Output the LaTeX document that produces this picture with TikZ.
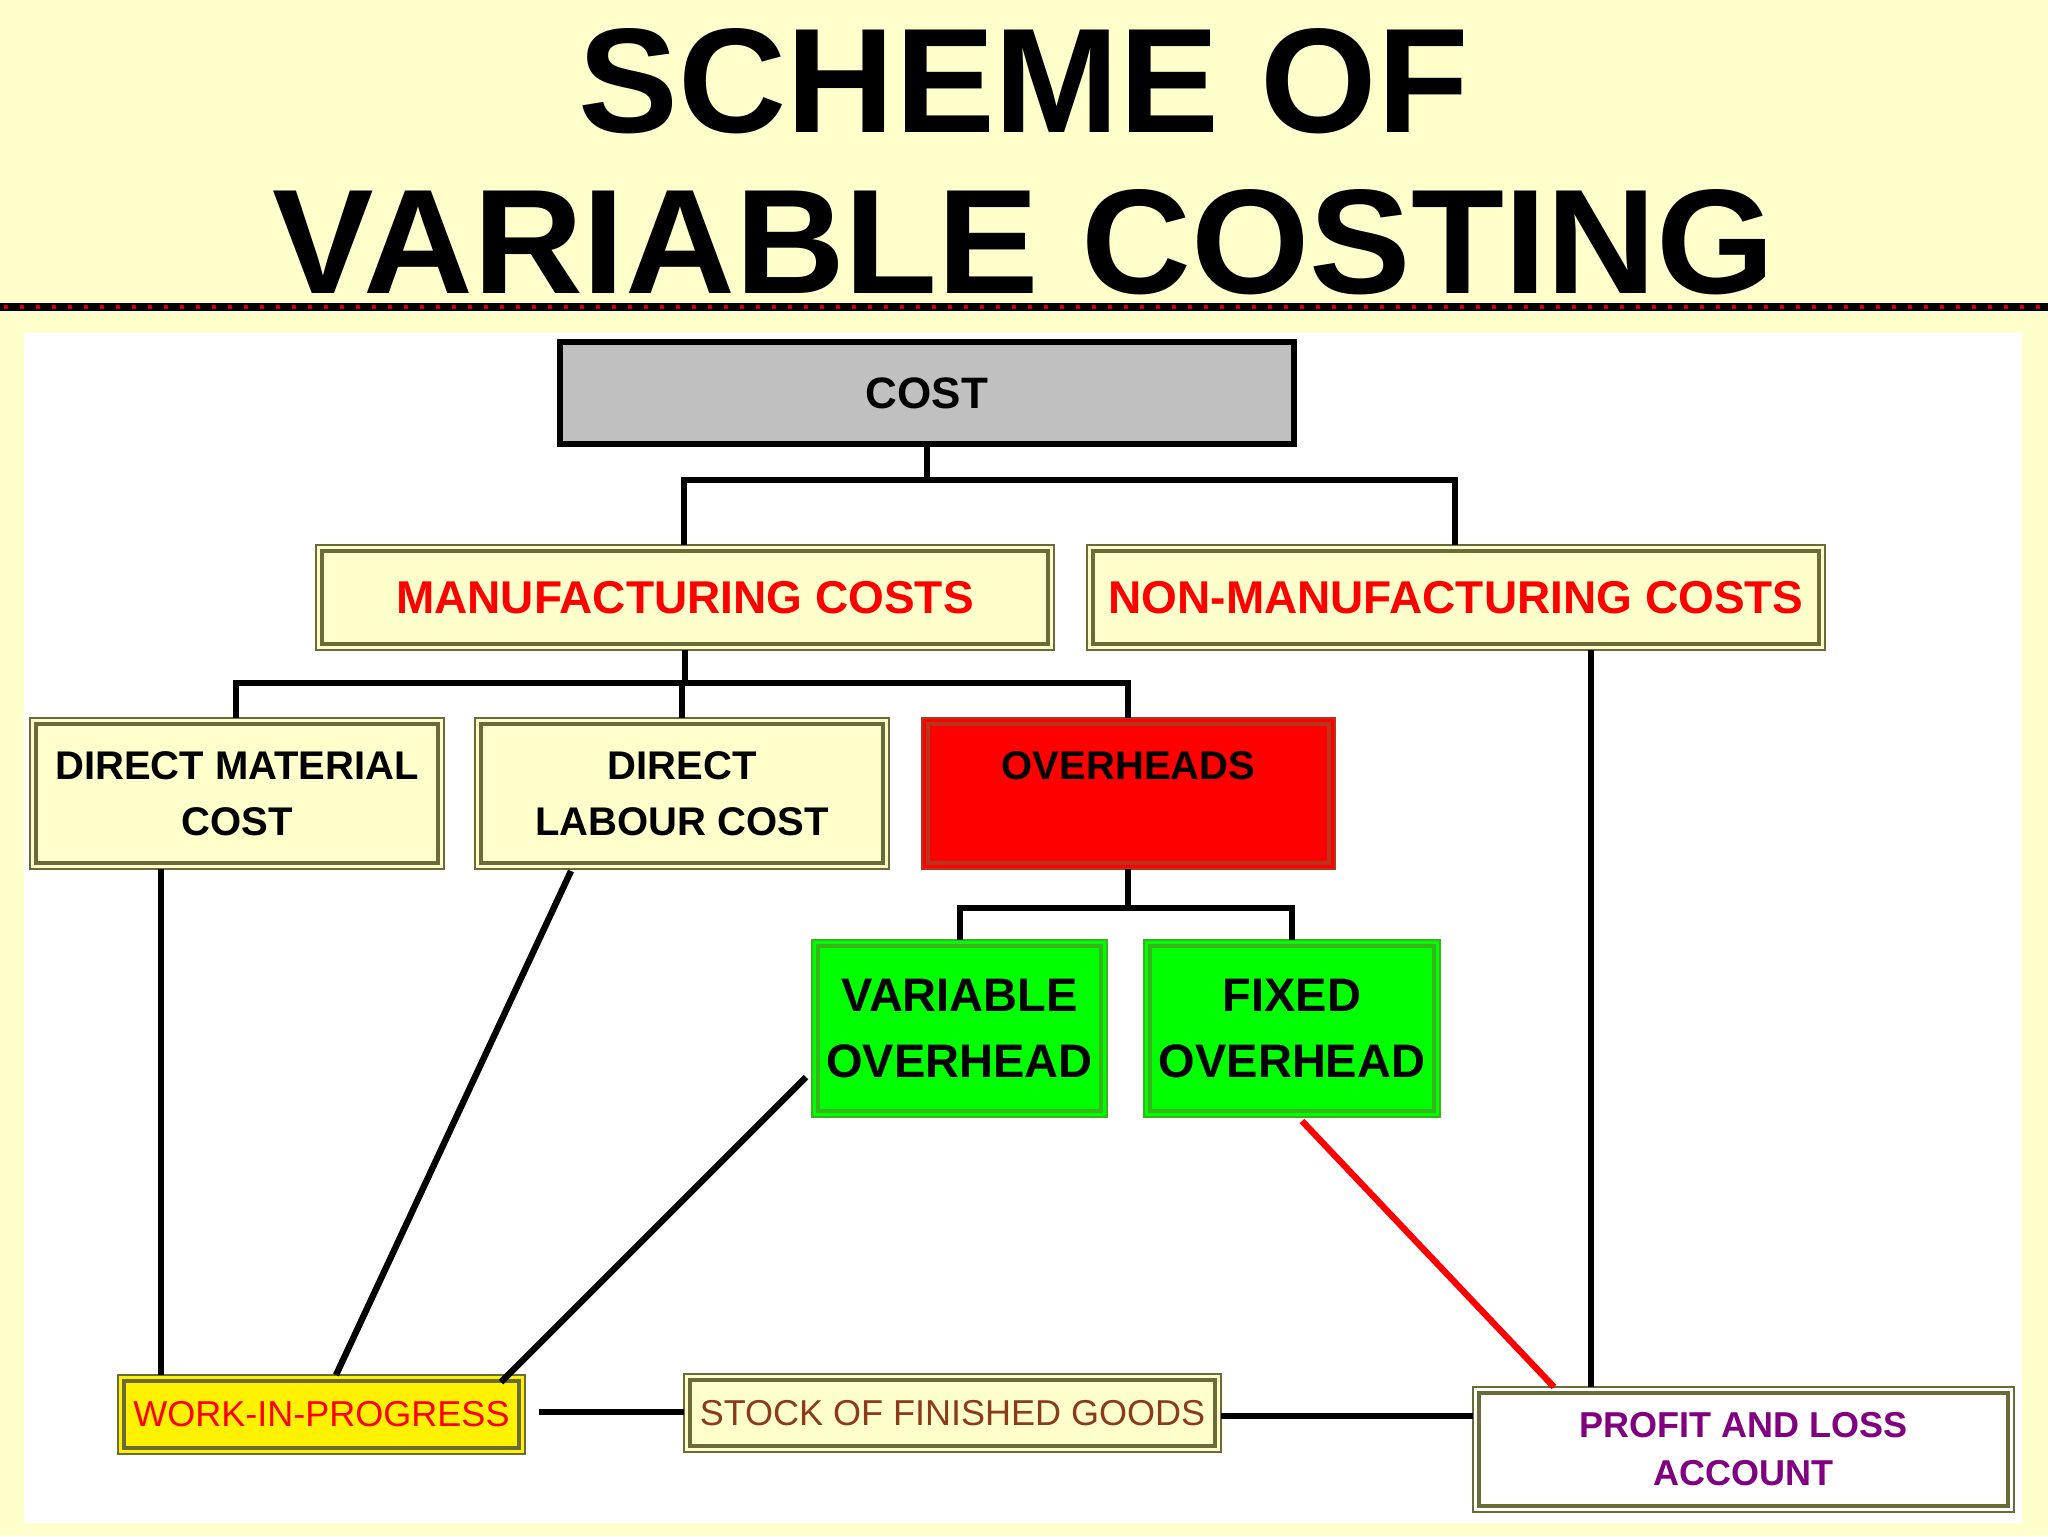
\documentclass[tikz,border=0pt]{standalone}
\usepackage{fontspec}
\setmainfont{Liberation Sans}
\usepackage{graphicx}
\definecolor{bgy}{HTML}{FFFFCC}
\definecolor{olv}{HTML}{6B6B3A}
\definecolor{pur}{HTML}{800080}
\definecolor{brn}{HTML}{8B3A1A}
\definecolor{gry}{HTML}{C0C0C0}
\tikzset{
  conn/.style={line width=3.2pt,black},
  lbl/.style={align=center},
}
% \bx{name}{x1}{y1}{x2}{y2}{fill}{border}{textstyle}{text}
\newcommand{\bx}[9]{%
  \fill[#6] (#2,#3) rectangle (#4,#5);
  \draw[#7,line width=0.6pt] (#2,#3) rectangle (#4,#5);
  \draw[#7,line width=2.2pt] ($(#2,#3)+(6,6)$) rectangle ($(#4,#5)+(-6,-6)$);
  \node[#8] (#1) at ($(#2,#3)!0.5!(#4,#5)$) {#9};
}
\usetikzlibrary{calc}
\begin{document}
\begin{tikzpicture}[x=0.5pt,y=-0.5pt]
\useasboundingbox (0,0) rectangle (2048,1536);
\fill[bgy] (0,0) rectangle (2048,1536);
\fill[black] (0,303) rectangle (2048,311);
\foreach \i in {0,16,...,2040}{\fill[red!80!black] (\i+4,305) rectangle (\i+8,309);}
\fill[white] (24,333) rectangle (2022,1523);
\node (t1) at (1024,81) {\resizebox{445pt}{52pt}{\bfseries SCHEME OF}};
\node (t2) at (1024,242) {\resizebox{751pt}{52pt}{\bfseries VARIABLE COSTING}};
% COST
\node[draw=black,line width=3pt,fill=gry,minimum width=367pt,minimum height=51pt,font=\fontsize{22}{26}\selectfont\bfseries] (cost) at (927,393) {COST};
\bx{mfg}{316}{545}{1054}{650}{bgy}{olv}{lbl,text=red,font=\fontsize{23}{27}\selectfont\bfseries}{MANUFACTURING COSTS}
\bx{nmfg}{1087}{545}{1825}{650}{bgy}{olv}{lbl,text=red,font=\fontsize{23}{27}\selectfont\bfseries}{NON-MANUFACTURING COSTS}
\bx{dm}{30}{718}{444}{869}{bgy}{olv}{lbl,font=\fontsize{20}{28}\selectfont\bfseries}{DIRECT MATERIAL\\COST}
\bx{dl}{475}{718}{889}{869}{bgy}{olv}{lbl,font=\fontsize{20}{28}\selectfont\bfseries}{DIRECT\\LABOUR COST}
\bx{ovh}{922}{718}{1335}{869}{red}{red!50!olv}{lbl,font=\fontsize{20}{24}\selectfont\bfseries,yshift=14pt}{OVERHEADS}
\bx{vo}{812}{940}{1107}{1117}{green}{green!50!olv}{lbl,font=\fontsize{23.5}{33}\selectfont\bfseries}{VARIABLE\\OVERHEAD}
\bx{fo}{1144}{940}{1440}{1117}{green}{green!50!olv}{lbl,font=\fontsize{23.5}{33}\selectfont\bfseries}{FIXED\\OVERHEAD}
\bx{wip}{118}{1375}{525}{1454}{yellow}{olv}{font=\fontsize{18}{22}\selectfont,text=red}{WORK-IN-PROGRESS}
\bx{sfg}{684}{1374}{1221}{1452}{bgy}{olv}{font=\fontsize{18}{22}\selectfont,text=brn}{STOCK OF FINISHED GOODS}
\bx{pl}{1473}{1387}{2014}{1512}{white}{olv}{lbl,font=\fontsize{18}{24}\selectfont\bfseries,text=pur}{PROFIT AND LOSS\\ACCOUNT}
% connectors
\coordinate (c1) at (927,480);
\draw[conn] (cost.south) -- (c1);
\draw[conn] (684,545) -- (684,480) -- (1455,480) -- (1455,545);
\draw[conn] (685,650) -- (685,683);
\draw[conn] (236,718) -- (236,683) -- (1128,683) -- (1128,718);
\draw[conn] (682,683) -- (682,718);
\draw[conn] (1128,869) -- (1128,908);
\draw[conn] (960,940) -- (960,908) -- (1292,908) -- (1292,940);
\draw[conn] (161,869) -- (161,1375);
\draw[conn] (571,871) -- (336,1375);
\draw[conn] (806,1077) -- (501,1382);
\draw[conn,red] (1302,1121) -- (1554,1387);
\draw[conn] (1591,650) -- (1591,1387);
\draw[conn] (539,1412) -- (684,1412);
\draw[conn] (1221,1416) -- (1473,1416);
\end{tikzpicture}
\end{document}
